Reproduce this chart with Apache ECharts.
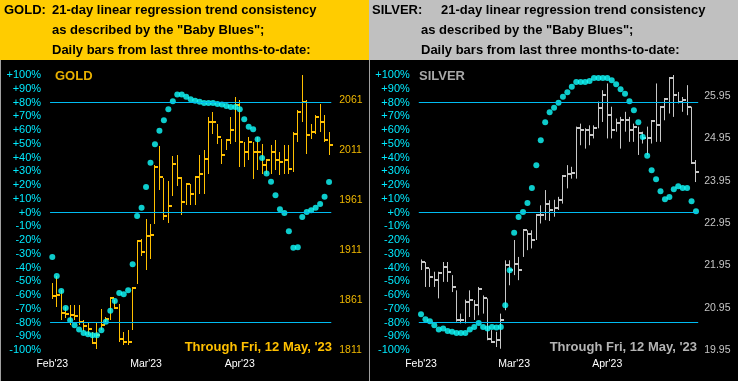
<!DOCTYPE html>
<html><head><meta charset="utf-8">
<script src="https://cdn.jsdelivr.net/npm/echarts@6.0.0/dist/echarts.min.js"></script>
<style>html,body{margin:0;padding:0;background:#000;}#c{width:738px;height:381px;}</style>
</head><body><div id="c"></div>
<script>
// ---- data ----
const dates = ['02-14','02-15','02-16','02-17','02-20','02-21','02-22','02-23','02-24','02-27','02-28',
 '03-01','03-02','03-03','03-06','03-07','03-08','03-09','03-10','03-13','03-14','03-15','03-16','03-17',
 '03-20','03-21','03-22','03-23','03-24','03-27','03-28','03-29','03-30','03-31',
 '04-03','04-04','04-05','04-06','04-10','04-11','04-12','04-13','04-14','04-17','04-18','04-19','04-20','04-21',
 '04-24','04-25','04-26','04-27','04-28','05-01','05-02','05-03','05-04','05-05','05-08','05-09','05-10','05-11','05-12'];
const monthTickIndex = [0, 21, 42];
const monthTickText = ["Feb'23", "Mar'23", "Apr'23"];

const goldHigh  = [1878,1885,1871,1854,1856,1856,1856,1841,1838,1829,1839,1852,1844,1864,1861,1857,1829,1831,1874,1921,1922,1942,1937,1996,2015,1983,1980,2005,2006,1984,1977,1977,1984,2006,2011,2044,2049,2037,2022,2022,2044,2064,2061,2019,2024,2019,2024,2017,2001,2016,2021,2009,2016,2016,2029,2051,2086,2061,2037,2046,2057,2046,2029];
const goldLow   = [1862,1854,1841,1843,1836,1841,1836,1830,1826,1817,1812,1831,1838,1841,1852,1819,1816,1816,1831,1877,1905,1891,1902,1937,1971,1941,1938,1965,1975,1946,1956,1956,1956,1967,1967,1987,2027,2017,1997,2011,2017,2019,1994,1994,2001,1982,1991,1987,1987,1987,1991,1986,1987,1987,1989,2019,2039,2007,2022,2027,2029,2019,2006];
const goldClose = [1865,1866,1848,1847,1846,1845,1839,1835,1832,1818,1826,1836,1842,1863,1853,1822,1819,1819,1873,1920,1909,1925,1926,1994,1984,1945,1955,1997,1983,1959,1977,1967,1984,1987,2002,2039,2039,2024,2006,2021,2031,2056,2019,2009,2019,2009,2009,1996,2001,2009,2001,1999,2001,1992,2027,2049,2059,2026,2029,2044,2039,2021,2016];
const goldBlues = [-32.3,-46.1,-57,-69.4,-78.3,-82,-85.1,-87.6,-88.5,-89.2,-89.2,-85.6,-79.5,-71.5,-64.3,-58.5,-59.4,-56.5,-37.6,-2.5,3.4,18.6,36.1,49.7,59.4,67.1,75.1,80.9,85.8,85.8,84.1,82.4,81.2,80.5,79.7,79.7,79.7,79,78.5,77.5,76.8,76.8,75.1,67.8,62.3,60.6,53.3,39.7,28.4,22.3,12.6,2.4,-0.3,-13.6,-25.7,-25.2,-3.2,0.4,1.6,3.4,6.1,11.4,22.1];

const silverHigh  = [22.09,22.03,21.88,21.80,21.80,22.03,22.03,21.72,21.36,20.81,21.14,21.36,21.13,21.44,21.24,21.17,20.42,20.38,20.81,22.07,22.07,22.55,22.15,22.78,22.78,22.78,23.14,23.37,23.73,23.49,23.50,23.57,24.08,24.32,24.28,25.23,25.30,25.19,25.26,25.26,25.82,26.09,26.25,25.70,25.42,25.46,25.58,25.46,25.30,25.23,25.11,25.23,25.38,26.25,25.70,25.89,26.37,26.45,26.05,25.93,26.21,25.70,24.44];
const silverLow   = [21.84,21.44,21.44,21.44,21.17,21.56,21.56,21.32,20.62,20.58,20.58,20.73,20.66,20.77,20.81,20.18,20.14,20.02,19.98,20.89,21.48,21.72,21.60,22.15,22.31,22.35,22.55,22.94,23.02,23.00,23.10,23.26,23.41,23.77,24.00,24.00,24.79,24.71,24.79,24.95,25.19,25.34,24.95,24.95,25.11,24.71,25.11,24.87,24.87,24.56,24.83,24.56,24.83,24.87,24.87,25.38,25.54,25.46,25.78,25.58,25.50,24.36,23.92];
const silverClose = [22.03,21.88,21.68,21.60,21.78,21.92,21.80,21.45,20.66,20.66,21.09,21.13,21.01,21.40,21.17,20.22,20.14,20.18,20.66,21.96,21.84,21.99,21.84,22.78,22.70,22.55,23.14,23.14,23.39,23.25,23.30,23.49,24.06,24.12,24.14,25.19,25.15,25.15,25.03,25.19,25.66,25.97,25.50,25.15,25.32,25.38,25.38,25.16,25.23,25.08,24.97,24.97,25.37,25.26,25.70,25.89,26.37,25.97,25.82,25.86,25.70,24.37,24.16];
const silverBlues = [-74,-77.6,-79.1,-82,-85.1,-84.4,-86.1,-86.8,-87.6,-87.6,-87.6,-85.1,-83.2,-80.3,-83.2,-84.4,-83.2,-83.6,-83.2,-67.4,-42,-14.8,-3.2,0.4,7,17.9,34.4,52.6,65.7,73,76.2,79.9,84.1,87.5,91.4,95,95,95,95.7,97.9,97.9,97.9,97.9,96.2,93.3,89.7,86.3,80.9,74.4,65.7,55,41.2,30.8,24.2,15.5,9.7,11.3,16.9,19.1,17.9,17.9,8.2,0.9];

const goldPriceTicks = {min: 1811, max: 2086, step: 50};
const silverPriceTicks = {min: 19.95, max: 26.45, step: 1};
const trendLevels = [80, 0, -80];

// ---- chart ----
const FONT = '"Liberation Sans", Arial, Helvetica, sans-serif';
const chart = echarts.init(document.getElementById('c'), null, {renderer: 'canvas'});

function barRenderer(color) {
  return function (params, api) {
    const x = api.value(0);
    const hi = api.coord([x, api.value(1)]);
    const lo = api.coord([x, api.value(2)]);
    const cl = api.coord([x, api.value(3)]);
    const cx = Math.round(hi[0] - 0.5) + 0.5;
    const cy = Math.round(cl[1]);
    return {type: 'group', children: [
      {type: 'line', shape: {x1: cx, y1: hi[1], x2: cx, y2: lo[1]}, style: {stroke: color, lineWidth: 1}},
      {type: 'line', shape: {x1: cx - 0.5, y1: cy, x2: cx + 3.5, y2: cy}, style: {stroke: color, lineWidth: 2}}
    ]};
  };
}

const pctFmt = v => (v >= 0 ? '+' : '') + Math.round(v) + '%';
function priceFmt(t, dec) {
  return v => {
    const k = (v - t.min) / t.step;
    if (Math.abs(k - Math.round(k)) > 0.001) return '';
    return dec ? v.toFixed(dec) : String(Math.round(v));
  };
}

const grids = [
  {left: 50.07, top: 75, width: 281.2, height: 275},
  {left: 418.8, top: 75, width: 279.4, height: 275}
];

function xAxisFor(g) {
  return {
    type: 'category', gridIndex: g, data: dates, boundaryGap: true,
    axisLine: {show: false}, axisTick: {show: false}, splitLine: {show: false},
    axisLabel: {
      interval: (i) => monthTickIndex.indexOf(i) >= 0,
      formatter: (v, i) => { const k = monthTickIndex.indexOf(i); return k >= 0 ? monthTickText[k] : ''; },
      color: '#ffffff', fontSize: 10.5, fontFamily: FONT, margin: 9
    }
  };
}
function pctAxis(g) {
  return {
    type: 'value', gridIndex: g, position: 'left', min: -100, max: 100, interval: 10,
    axisLine: {show: false}, axisTick: {show: false}, splitLine: {show: false},
    axisLabel: {formatter: pctFmt, color: '#00eaff', fontSize: 11, fontFamily: FONT, margin: 9}
  };
}
function priceAxis(g, t, dec, color, margin) {
  return {
    type: 'value', gridIndex: g, position: 'right', min: t.min, max: t.max, interval: t.step,
    axisLine: {show: false}, axisTick: {show: false}, splitLine: {show: false},
    axisLabel: {formatter: priceFmt(t, dec), color: color, fontSize: 10.5, fontFamily: FONT, margin: margin,
      showMinLabel: true, showMaxLabel: true}
  };
}

function barsSeries(g, high, low, close, color) {
  return {
    type: 'custom', xAxisIndex: g, yAxisIndex: g * 2 + 1, z: 2,
    renderItem: barRenderer(color),
    data: high.map((h, i) => [i, h, low[i], close[i]])
  };
}
function bluesSeries(g, blues) {
  return {
    type: 'scatter', xAxisIndex: g, yAxisIndex: g * 2, z: 4,
    symbol: 'circle', symbolSize: 6,
    itemStyle: {color: '#10ffff'},
    data: blues.map((v, i) => [i, v]),
    markLine: {
      silent: true, symbol: ['none', 'none'], animation: false,
      label: {show: false},
      lineStyle: {color: '#00bcf2', width: 1, type: 'solid'},
      data: trendLevels.map(v => ({yAxis: v}))
    }
  };
}

function txt(x, y, s, fill, font, align) {
  return {type: 'text', x: x, y: y, silent: true, z: 10,
    style: {text: s, fill: fill, font: font, align: align || 'left', textAlign: align || 'left',
      verticalAlign: 'middle', textVerticalAlign: 'middle'}};
}
const HFONT = 'bold 13px ' + FONT;

const graphics = [
  {type: 'rect', shape: {x: 0, y: 0, width: 369, height: 60}, style: {fill: '#ffcc00'}, silent: true, z: 1},
  {type: 'rect', shape: {x: 369, y: 0, width: 369, height: 60}, style: {fill: '#c0c0c0'}, silent: true, z: 1},
  {type: 'line', shape: {x1: 0.5, y1: 60, x2: 0.5, y2: 381}, style: {stroke: '#a0a0a0', lineWidth: 1}, silent: true, z: 1},
  {type: 'line', shape: {x1: 369.5, y1: 60, x2: 369.5, y2: 381}, style: {stroke: '#a0a0a0', lineWidth: 1}, silent: true, z: 1},
  txt(4, 10.5, 'GOLD:', '#000', HFONT),
  txt(52, 10.5, '21-day linear regression trend consistency', '#000', HFONT),
  txt(52, 30.5, 'as described by the "Baby Blues";', '#000', HFONT),
  txt(52, 50.5, 'Daily bars from last three months-to-date:', '#000', HFONT),
  txt(372, 10.5, 'SILVER:', '#000', HFONT),
  txt(441, 10.5, '21-day linear regression trend consistency', '#000', HFONT),
  txt(421, 30.5, 'as described by the "Baby Blues";', '#000', HFONT),
  txt(421, 50.5, 'Daily bars from last three months-to-date:', '#000', HFONT),
  txt(55, 76, 'GOLD', '#e8b000', HFONT),
  txt(419, 76, 'SILVER', '#a8a8a8', HFONT),
  txt(332, 347.5, "Through Fri, 12 May, '23", '#ffc000', HFONT, 'right'),
  txt(697, 347.5, "Through Fri, 12 May, '23", '#b4b4b4', HFONT, 'right')
];

chart.setOption({
  animation: false,
  backgroundColor: '#000000',
  textStyle: {fontFamily: FONT},
  grid: grids,
  xAxis: [xAxisFor(0), xAxisFor(1)],
  yAxis: [pctAxis(0), priceAxis(0, goldPriceTicks, 0, '#f0b800', 8),
          pctAxis(1), priceAxis(1, silverPriceTicks, 2, '#c4c4c4', 6)],
  series: [
    barsSeries(0, goldHigh, goldLow, goldClose, '#ffc000'),
    bluesSeries(0, goldBlues),
    barsSeries(1, silverHigh, silverLow, silverClose, '#c8c8c8'),
    bluesSeries(1, silverBlues)
  ],
  graphic: graphics
});
</script></body></html>
